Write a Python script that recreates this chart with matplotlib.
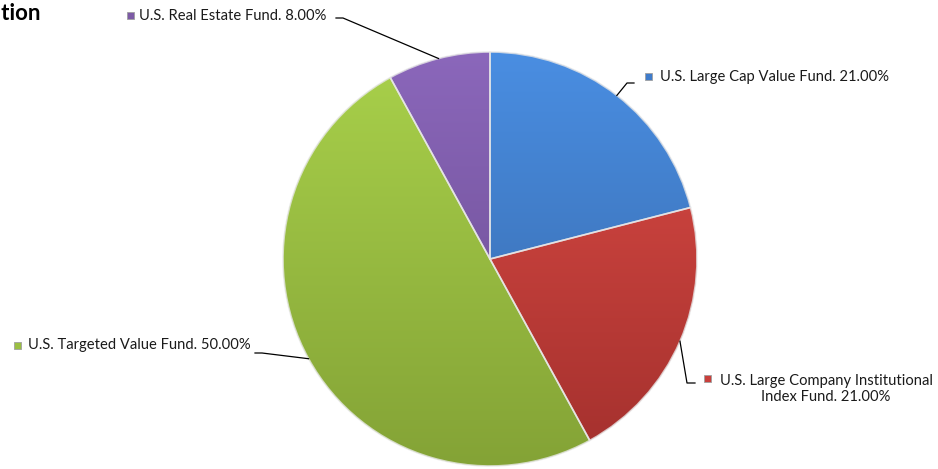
import numpy as np
import matplotlib
matplotlib.use('Agg')
import matplotlib.pyplot as plt
from matplotlib.colors import LinearSegmentedColormap
from matplotlib.lines import Line2D
from matplotlib.patches import Rectangle

funds = ['U.S. Large Cap Value Fund',
         'U.S. Large Company Institutional\nIndex Fund',
         'U.S. Targeted Value Fund',
         'U.S. Real Estate Fund']
shares = [21.0, 21.0, 50.0, 8.0]
base_colors = ['#3f7ccb', '#c93f3b', '#9bbf43', '#7d5ba6']
top_colors = ['#4a8ee2', '#de4c46', '#a9d14b', '#8b67bb']
bottom_colors = ['#3565a4', '#a3302d', '#84a336', '#674a8c']

W, H = 938, 469
plt.rcParams['font.family'] = ['Lato', 'DejaVu Sans']

fig = plt.figure(figsize=(W / 100, H / 100), dpi=100)

# pie centre and radius in pixels (from the top-left corner)
cx, cy, r = 490, 259, 207
ax = fig.add_axes([(cx - r) / W, (H - cy - r) / H, 2 * r / W, 2 * r / H])

wedges, _ = ax.pie(shares, colors=base_colors, startangle=90,
                   counterclock=False, radius=1,
                   wedgeprops=dict(linewidth=0))

# soft vertical shading clipped to each slice
grad = np.linspace(1, 0, 256).reshape(-1, 1)
for w, c_top, c_bot in zip(wedges, top_colors, bottom_colors):
    cmap = LinearSegmentedColormap.from_list('g', [c_bot, c_top])
    im = ax.imshow(grad, extent=[-1, 1, -1, 1], cmap=cmap, origin='upper',
                   aspect='auto', zorder=2, interpolation='bilinear')
    im.set_clip_path(w)

ax.pie(shares, colors=['none'] * 4, startangle=90, counterclock=False,
       radius=1, wedgeprops=dict(linewidth=1.2, edgecolor='#e8e8e8',
                                 zorder=3, alpha=0.8))
ax.set_xlim(-1, 1)
ax.set_ylim(-1, 1)
ax.set_aspect('equal')
ax.axis('off')


def px(x, y):
    return x / W, 1 - y / H


# label placement: marker centre, text anchor, elbow of the leader line
layout = [
    dict(mx=648, my=76, tx=660, ty=77, ha='left', elbow=[(627, 83), (634, 83)]),
    dict(mx=707, my=378, tx=826, ty=389, ha='center', elbow=[(687, 383), (695, 383)]),
    dict(mx=17, my=345, tx=28, ty=345, ha='left', elbow=[(262, 353), (255, 353)]),
    dict(mx=130, my=15, tx=139, ty=16, ha='left', elbow=[(343, 18), (336, 18)]),
]

fig.canvas.draw()
for w, name, val, col, top, lay in zip(wedges, funds, shares, base_colors,
                                       top_colors, layout):
    mid = np.deg2rad((w.theta1 + w.theta2) / 2)
    ex, ey = ax.transData.transform((np.cos(mid), np.sin(mid)))
    pts = [(ex, ey)] + [(x, H - y) for x, y in lay['elbow']]
    xs, ys = zip(*pts)
    fig.add_artist(Line2D(xs, ys, color='black', lw=0.9, transform=None))

    s = 7
    fig.add_artist(Rectangle((lay['mx'] - s / 2, H - lay['my'] - s / 2), s, s,
                             facecolor=col, edgecolor='#a0a0a0', lw=0.6,
                             transform=None))
    label = f'{name}. {val:.2f}%'
    fig.text(*px(lay['tx'], lay['ty']), label, fontsize=10.6, color='#1a1a1a',
             ha=lay['ha'], va='center', multialignment='center',
             linespacing=1.2)

# the chart title runs off the left edge; only its end is visible
title = fig.text(0, 0, 'Asset Allocation', fontsize=16, fontweight='bold',
                 ha='right', va='center', color='black')
probe = fig.text(0, 0, 'tion', fontsize=16, fontweight='bold')
tail_w = probe.get_window_extent(fig.canvas.get_renderer()).width
probe.remove()
title.set_position(px(tail_w + 1, 13))

fig.savefig('out.png', dpi=100)
